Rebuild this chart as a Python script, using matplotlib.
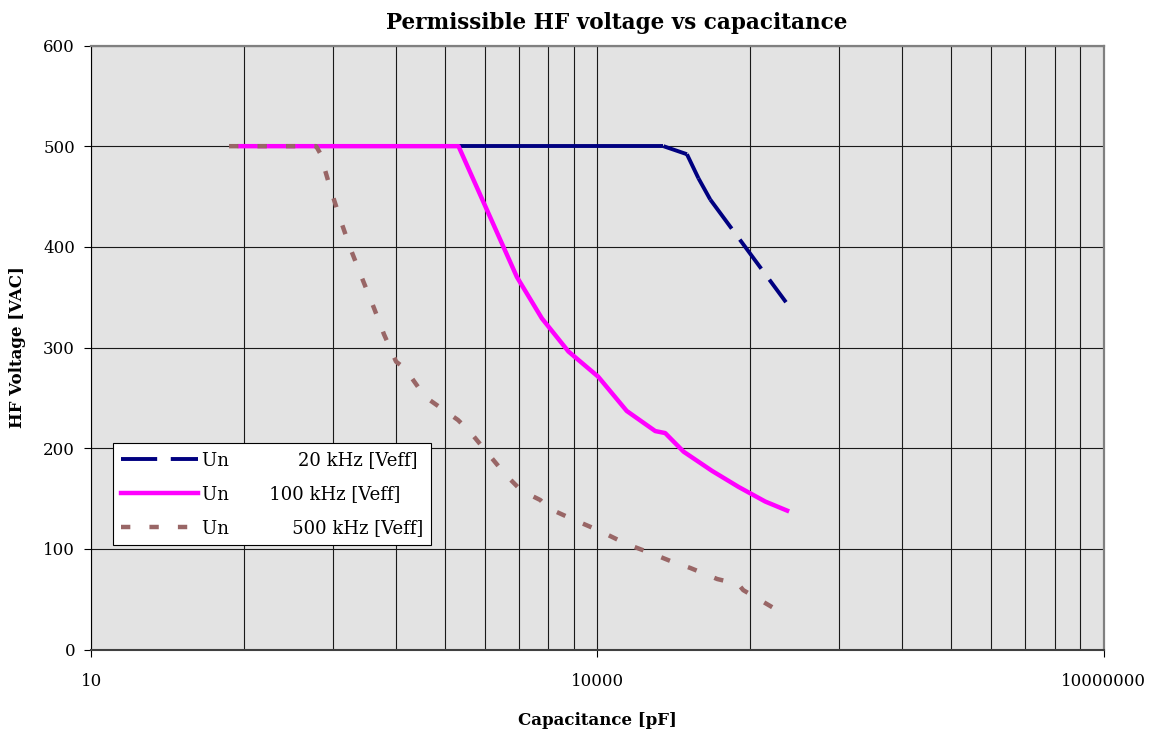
import numpy as np
import matplotlib
matplotlib.use('Agg')
import matplotlib.pyplot as plt
from matplotlib.ticker import FixedLocator, NullFormatter

plt.rcParams['font.family'] = 'DejaVu Serif'

# capacitance [pF] and permissible voltage [VAC]
c_20k = [76, 1500, 2200, 3330, 4680, 6730, 10100, 14900, 22000, 24600,
         33900, 39700, 46600, 131000]
u_20k = [500, 500, 500, 500, 500, 500, 500, 500, 500, 500,
         492, 468, 447, 345]

c_100k = [76, 1500, 3330, 4680, 6730, 10100, 14900, 22000, 25200, 32400,
          47700, 68600, 98700, 133000]
u_100k = [500, 500, 370, 329, 296, 271, 237, 217, 215, 196.5,
          177.5, 161.5, 147, 138]

c_500k = [65.5, 215, 227, 260, 298, 342, 402, 474, 543, 640, 724, 951, 1490,
          1760, 2160, 2840, 3530, 4580, 5100, 6890, 10100, 14800, 22000,
          27000, 35500, 51300, 68300, 73100, 108700]
u_500k = [500, 500, 493, 459, 428, 399, 369, 339, 313, 286, 279, 251, 228,
          216, 198, 174, 158, 148.5, 140.5, 130.5, 118.5, 105, 94,
          88, 81, 70, 65, 59, 42]

labels = ['Un' + ' ' * 12 + '20 kHz [Veff]',
          'Un' + ' ' * 7 + '100 kHz [Veff]',
          'Un' + ' ' * 11 + '500 kHz [Veff]']

x_major = [10, 10000, 10000000]
x_minor = [10 * k ** 3 for k in range(2, 10)] + [10000 * k ** 3 for k in range(2, 10)]
y_major = np.arange(0, 700, 100)

fig = plt.figure(figsize=(11.52, 7.34), dpi=100)
ax = fig.add_axes([0.0793, 0.1151, 0.8787, 0.8229])
ax.set_facecolor('#e3e3e3')

# Excel restarts the dash pattern on every segment, so draw them one by one
for i in range(len(c_20k) - 1):
    ax.plot(c_20k[i:i + 2], u_20k[i:i + 2], color='#000080', lw=2.8,
            linestyle=(0, (9.3, 3.5)), label=labels[0] if i == 0 else None,
            zorder=3)
ax.plot(c_100k, u_100k, color='#ff00ff', lw=3.2, label=labels[1], zorder=4)
ax.plot(c_500k, u_500k, color='#996666', lw=3.2, linestyle=(0, (2.1, 4.3)),
        label=labels[2], zorder=5)

ax.set_xscale('log')
ax.set_xlim(10, 10000000)
ax.set_ylim(0, 600)
ax.xaxis.set_major_locator(FixedLocator(x_major))
ax.xaxis.set_minor_locator(FixedLocator(x_minor))
ax.xaxis.set_minor_formatter(NullFormatter())
ax.set_xticklabels([str(v) for v in x_major])
ax.set_yticks(y_major)

ax.grid(which='major', color='#1a1a1a', lw=0.8, zorder=1)
ax.grid(which='minor', axis='x', color='#1a1a1a', lw=0.8, zorder=1)
ax.set_axisbelow(True)

ax.tick_params(axis='y', which='major', direction='out', length=4.7, width=0.8,
               pad=7, labelsize=12)
ax.tick_params(axis='x', which='major', direction='out', length=5, width=0.8,
               pad=12, labelsize=12)
ax.tick_params(axis='x', which='minor', length=0)

for s in ['top', 'right']:
    ax.spines[s].set_color('#808080')
    ax.spines[s].set_linewidth(1.6)
ax.spines['left'].set_color('black')
ax.spines['left'].set_linewidth(0.8)
ax.spines['bottom'].set_color('#404040')
ax.spines['bottom'].set_linewidth(1.5)

ax.set_xlabel('Capacitance [pF]', fontsize=12, fontweight='bold')
ax.xaxis.set_label_coords(0.5, -0.104)
ax.set_ylabel('HF Voltage [VAC]', fontsize=12, fontweight='bold')
ax.yaxis.set_label_coords(-0.0725, 0.5)
ax.yaxis.label.set_verticalalignment('center')

fig.text(0.535, 1 - 23 / 734, 'Permissible HF voltage vs capacitance',
         ha='center', va='center', fontsize=15.5, fontweight='bold')

leg = ax.legend(loc='upper left', bbox_to_anchor=(112.7 / 1152, 1 - 443 / 734),
                bbox_transform=fig.transFigure, borderaxespad=0, fancybox=False,
                framealpha=1, edgecolor='black', fontsize=13, handlelength=4.3,
                handletextpad=0.2, labelspacing=0.89, borderpad=0.45)
leg.get_frame().set_linewidth(0.8)
leg.set_zorder(10)

fig.savefig('out.png', dpi=100)
